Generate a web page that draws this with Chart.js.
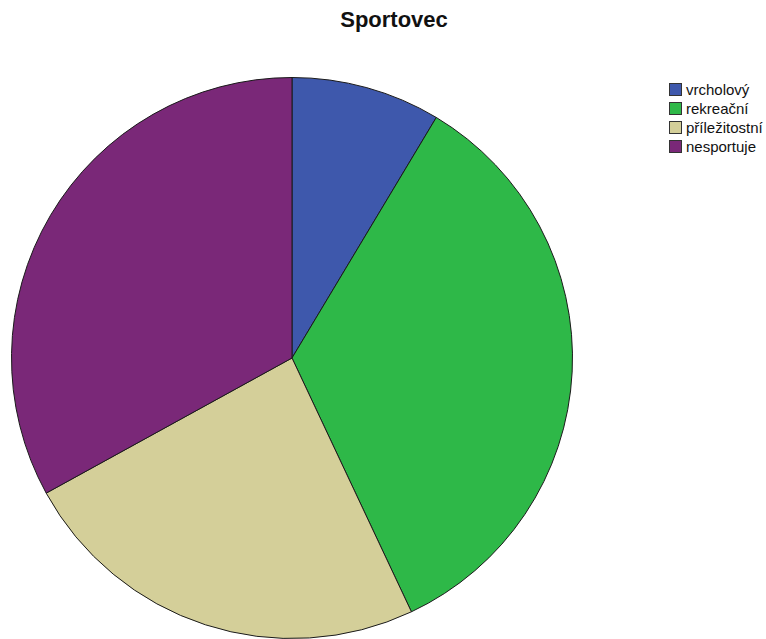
<!DOCTYPE html>
<html>
<head>
<meta charset="utf-8">
<script src="https://cdn.jsdelivr.net/npm/chart.js@4"></script>
<style>
    body { margin: 0; background: #fff; width: 766px; height: 639px; overflow: hidden; position: relative; font-family: "Liberation Sans", Arial, sans-serif; }
    #title { position: absolute; left: 294px; width: 200px; top: 7px; text-align: center; font-size: 22px; font-weight: bold; color: #111; }
    #pieChart { position: absolute; left: 11px; top: 77px; }
    #legend { position: absolute; left: 669px; top: 80px; font-size: 15px; color: #111; }
    .legend-item { display: flex; align-items: center; height: 19px; white-space: nowrap; }
    .swatch { width: 13px; height: 13px; box-sizing: border-box; border: 1px solid #333; margin-right: 4px; }
</style>
</head>
<body>
<div id="title">Sportovec</div>
<canvas id="pieChart" width="562" height="562"></canvas>
<div id="legend"></div>
<script>
const categories = ['vrcholový', 'rekreační', 'příležitostní', 'nesportuje'];
const percentages = [8.6, 34.4, 24.0, 33.0];
const colors = ['#3e58ac', '#2eb848', '#d4cf99', '#7a2878'];

// legend
document.getElementById('legend').innerHTML = categories.map((c, i) => `
    <div class="legend-item">
        <div class="swatch" style="background: ${colors[i]}"></div>
        <span>${c}</span>
    </div>
`).join('');

const ctx = document.getElementById('pieChart').getContext('2d');
new Chart(ctx, {
    type: 'pie',
    data: {
        labels: categories,
        datasets: [{
            data: percentages,
            backgroundColor: colors,
            borderColor: '#1a1a1a',
            borderWidth: 1
        }]
    },
    options: {
        responsive: false,
        animation: false,
        layout: { padding: 0 },
        plugins: {
            legend: { display: false },
            tooltip: { enabled: false }
        }
    }
});
</script>
</body>
</html>
